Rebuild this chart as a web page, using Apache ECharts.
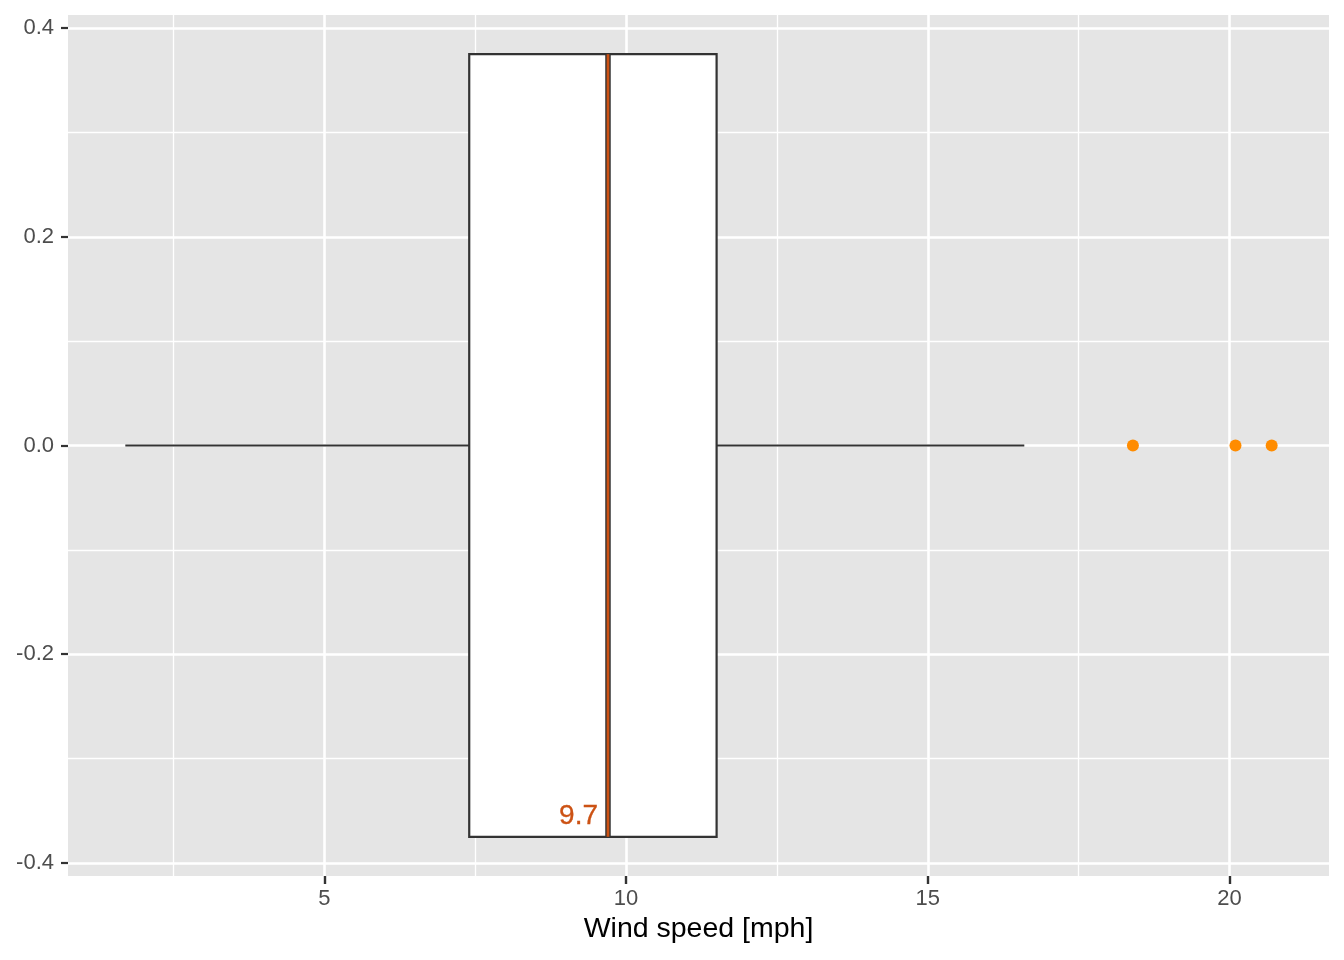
<!DOCTYPE html>
<html>
<head>
<meta charset="utf-8">
<script src="https://cdn.jsdelivr.net/npm/echarts@6/dist/echarts.min.js"></script>
<style>
html,body{margin:0;padding:0;background:#fff;}
#chart{width:1344px;height:960px;}
</style>
</head>
<body>
<div id="chart"></div>
<script>
// Wind speed summary (min, Q1, median, Q3, upper whisker)
const windStats = [1.7, 7.4, 9.7, 11.5, 16.6];
const outliers = [18.4, 20.1, 20.7];
const medianLabel = "9.7";
const boxHalfWidth = 0.375;
const xMajorTicks = [5, 10, 15, 20];
const xMinorTicks = [2.5, 7.5, 12.5, 17.5];
const yMajorTicks = [-0.4, -0.2, 0, 0.2, 0.4];
const yMinorTicks = [-0.3, -0.1, 0.1, 0.3];
const xRange = [0.75, 21.65];
const yRange = [-0.4125, 0.4125];
const xTitle = "Wind speed [mph]";

const FONT = "'Liberation Sans', Arial, Helvetica, sans-serif";
const chart = echarts.init(document.getElementById('chart'), null, {renderer: 'canvas'});

const option = {
  backgroundColor: '#FFFFFF',
  animation: false,
  grid: {left: 68, top: 15, right: 15, bottom: 84, show: true, backgroundColor: '#E5E5E5', borderWidth: 0},
  xAxis: [
    {
      type: 'value', gridIndex: 0,
      min: xRange[0], max: xRange[1], position: 'bottom',
      axisLine: {show: false, onZero: false},
      axisTick: {show: true, length: 8, lineStyle: {color: '#333333', width: 2.4}, customValues: xMajorTicks},
      axisLabel: {color: '#4D4D4D', fontSize: 22, fontFamily: FONT, margin: 12, customValues: xMajorTicks},
      splitLine: {show: true, lineStyle: {color: '#FFFFFF', width: 2.6}},
      name: xTitle, nameLocation: 'middle', nameGap: 38,
      nameTextStyle: {color: '#000000', fontSize: 28.5, fontFamily: FONT},
      z: 2
    },
    {
      type: 'value', gridIndex: 0,
      min: xRange[0], max: xRange[1], position: 'top',
      axisLine: {show: false, onZero: false},
      axisTick: {show: false, customValues: xMinorTicks},
      axisLabel: {show: false, customValues: xMinorTicks},
      splitLine: {show: true, lineStyle: {color: '#FFFFFF', width: 1.3}},
      z: 1
    }
  ],
  yAxis: [
    {
      type: 'value', gridIndex: 0,
      min: yRange[0], max: yRange[1], position: 'left',
      axisLine: {show: false, onZero: false},
      axisTick: {show: true, length: 7, lineStyle: {color: '#333333', width: 2.2}, customValues: yMajorTicks},
      axisLabel: {color: '#4D4D4D', fontSize: 22, fontFamily: FONT, margin: 14, customValues: yMajorTicks,
        formatter: function (v) { return Number(v).toFixed(1).replace('-0.0', '0.0'); }},
      splitLine: {show: true, lineStyle: {color: '#FFFFFF', width: 2.6}},
      z: 2
    },
    {
      type: 'value', gridIndex: 0,
      min: yRange[0], max: yRange[1], position: 'right',
      axisLine: {show: false, onZero: false},
      axisTick: {show: false, customValues: yMinorTicks},
      axisLabel: {show: false, customValues: yMinorTicks},
      splitLine: {show: true, lineStyle: {color: '#FFFFFF', width: 1.3}},
      z: 1
    }
  ],
  series: [
    {
      type: 'custom',
      xAxisIndex: 0, yAxisIndex: 0,
      data: [windStats],
      encode: {x: [0, 1, 2, 3, 4]},
      z: 5,
      renderItem: function (params, api) {
        const vMin = api.value(0), q1 = api.value(1), med = api.value(2), q3 = api.value(3), vMax = api.value(4);
        const pMin = api.coord([vMin, 0]);
        const pQ1 = api.coord([q1, 0]);
        const pQ3 = api.coord([q3, 0]);
        const pMax = api.coord([vMax, 0]);
        const top = api.coord([q1, boxHalfWidth])[1];
        const bot = api.coord([q1, -boxHalfWidth])[1];
        const xm = api.coord([med, 0])[0];
        const lineStyle = {stroke: '#333333', lineWidth: 2.2, fill: null};
        return {
          type: 'group',
          children: [
            {type: 'line', shape: {x1: pMin[0], y1: pMin[1], x2: pQ1[0], y2: pQ1[1]}, style: lineStyle},
            {type: 'line', shape: {x1: pQ3[0], y1: pQ3[1], x2: pMax[0], y2: pMax[1]}, style: lineStyle},
            {type: 'rect', shape: {x: pQ1[0], y: top, width: pQ3[0] - pQ1[0], height: bot - top},
              style: {fill: '#FFFFFF', stroke: '#333333', lineWidth: 2.2}},
            {type: 'line', shape: {x1: xm, y1: top, x2: xm, y2: bot}, style: {stroke: '#333333', lineWidth: 5.5}},
            {type: 'line', shape: {x1: xm, y1: top, x2: xm, y2: bot}, style: {stroke: '#CC5214', lineWidth: 2.7}},
            {type: 'text', x: xm - 10, y: bot - 7,
              style: {text: medianLabel, fill: '#CC5214', stroke: '#CC5214', lineWidth: 0.3,
                font: '28px ' + FONT, align: 'right', verticalAlign: 'bottom'}}
          ]
        };
      }
    },
    {
      type: 'scatter',
      xAxisIndex: 0, yAxisIndex: 0,
      data: outliers.map(function (v) { return [v, 0]; }),
      symbol: 'circle', symbolSize: 12,
      itemStyle: {color: '#FF8C00', opacity: 1},
      z: 6
    }
  ]
};
chart.setOption(option);
</script>
</body>
</html>
